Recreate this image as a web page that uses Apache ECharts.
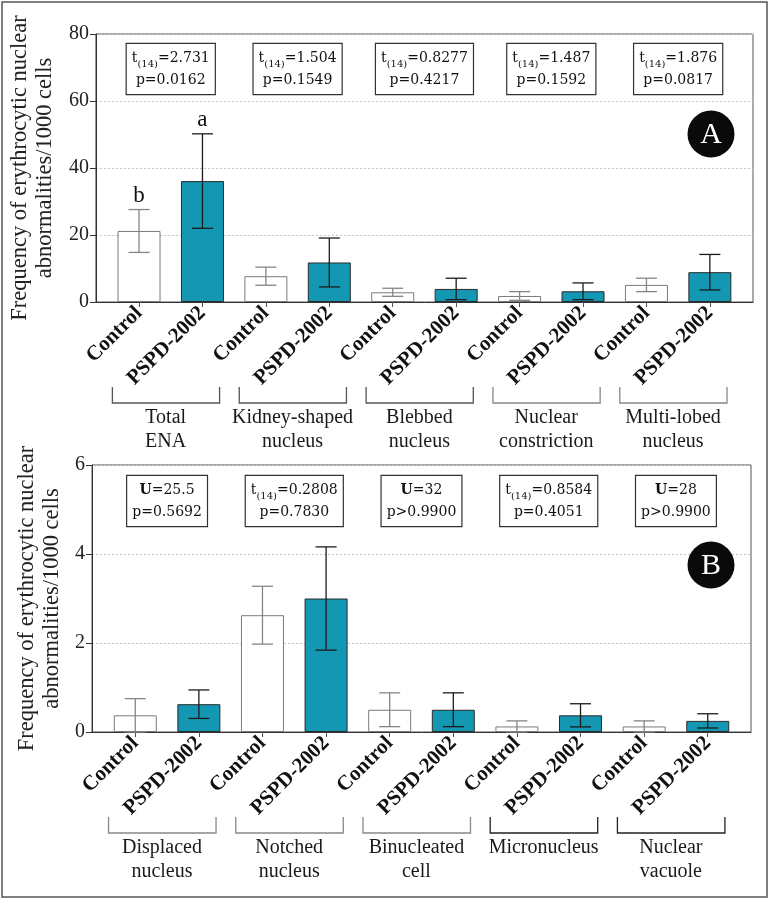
<!DOCTYPE html>
<html><head><meta charset="utf-8">
<script src="https://cdn.jsdelivr.net/npm/echarts@6/dist/echarts.min.js"></script>
<style>html,body{margin:0;padding:0;background:#fff}#c{width:770px;height:900px}</style>
</head><body><div id="c"></div>
<script>
// ---------- data ----------
const barLabels = ['Control','PSPD-2002','Control','PSPD-2002','Control','PSPD-2002','Control','PSPD-2002','Control','PSPD-2002'];
const groupsA = ['Total\nENA','Kidney-shaped\nnucleus','Blebbed\nnucleus','Nuclear\nconstriction','Multi-lobed\nnucleus'];
const groupsB = ['Displaced\nnucleus','Notched\nnucleus','Binucleated\ncell','Micronucleus','Nuclear\nvacuole'];
const meanA = [21.2, 36.1, 7.7, 11.8, 2.9, 3.9, 1.8, 3.2, 5.1, 8.9];
const sdA   = [6.4, 14.1, 2.7, 7.3, 1.2, 3.2, 1.3, 2.5, 2.0, 5.3];
const meanB = [0.375, 0.625, 2.625, 3.0, 0.5, 0.5, 0.125, 0.375, 0.125, 0.25];
const sdB   = [0.375, 0.32, 0.65, 1.16, 0.38, 0.38, 0.125, 0.26, 0.125, 0.16];
const lettersA = ['b','a','','','','','','','',''];
const lettersB = ['','','','','','','','','',''];
const statTopA = ['t(14)=2.731','t(14)=1.504','t(14)=0.8277','t(14)=1.487','t(14)=1.876'];
const statBotA = ['p=0.0162','p=0.1549','p=0.4217','p=0.1592','p=0.0817'];
const statTopB = ['U=25.5','t(14)=0.2808','U=32','t(14)=0.8584','U=28'];
const statBotB = ['p=0.5692','p=0.7830','p>0.9900','p=0.4051','p>0.9900'];
const yTicksA = {min:0, max:80, interval:20};
const yTicksB = {min:0, max:6, interval:2};
const yTitle = 'Frequency of erythrocytic nuclear\nabnormalities/1000 cells';

// ---------- styling ----------
const SERIF = '"Liberation Serif","Times New Roman",serif';
const STATFONT = '"DejaVu Serif",serif';
const TEAL = '#1497b3';
const idx = barLabels.map((_, i) => i);

const chart = echarts.init(document.getElementById('c'));

function xAxisCfg(gi) {
  return {
    type: 'value', gridIndex: gi, min: -0.68, max: 9.68,
    axisLine: {show: true, onZero: false, lineStyle: {color: '#333', width: 1}},
    axisTick: {show: true, customValues: idx, length: 5, lineStyle: {color: '#555'}},
    axisLabel: {customValues: idx, rotate: 45, margin: 8,
      formatter: v => barLabels[Math.round(v)],
      fontFamily: SERIF, fontWeight: 'bold', fontSize: 21, color: '#111'},
    splitLine: {show: false}
  };
}
function yAxisCfg(gi, t) {
  return {
    type: 'value', gridIndex: gi, min: t.min, max: t.max, interval: t.interval,
    axisLine: {show: true, onZero: false, lineStyle: {color: '#333'}},
    axisTick: {show: true, length: 6, lineStyle: {color: '#333'}},
    axisLabel: {fontFamily: SERIF, fontSize: 20, color: '#222', margin: 7},
    splitLine: {show: true, lineStyle: {color: '#c4c4c4', type: [2, 2]}},
    name: yTitle, nameLocation: 'middle', nameGap: 27,
    nameTextStyle: {fontFamily: SERIF, fontSize: 22.5, lineHeight: 25, color: '#222'}
  };
}
function barSeries(gi, means) {
  return {
    type: 'bar', xAxisIndex: gi, yAxisIndex: gi, barWidth: 43, z: 2,
    data: means.map((v, i) => ({
      value: [i, v],
      itemStyle: i % 2 ? {color: TEAL, borderColor: '#2a2a2a', borderWidth: 1}
                       : {color: '#fff', borderColor: '#7a7a7a', borderWidth: 1}
    }))
  };
}
function errSeries(gi, means, sds, letters) {
  return {
    type: 'custom', xAxisIndex: gi, yAxisIndex: gi, z: 3, clip: false,
    data: means.map((v, i) => [i, v, sds[i]]),
    renderItem: function (params, api) {
      const i = api.value(0), m = api.value(1), s = api.value(2);
      const pt = api.coord([i, m + s]), pb = api.coord([i, Math.max(0, m - s)]);
      const col = i % 2 ? '#1b1b1b' : '#858585';
      const hw = 10.5, lw = 1.3;
      const ch = [
        {type: 'line', shape: {x1: pt[0], y1: pt[1], x2: pb[0], y2: pb[1]}, style: {stroke: col, lineWidth: lw}},
        {type: 'line', shape: {x1: pt[0] - hw, y1: pt[1], x2: pt[0] + hw, y2: pt[1]}, style: {stroke: col, lineWidth: lw}},
        {type: 'line', shape: {x1: pb[0] - hw, y1: pb[1], x2: pb[0] + hw, y2: pb[1]}, style: {stroke: col, lineWidth: lw}}
      ];
      const L = letters[params.dataIndex];
      if (L) ch.push({type: 'text', x: pt[0], y: pt[1] - 2,
        style: {text: L, fontFamily: SERIF, fontSize: 23, fill: '#111', align: 'center', verticalAlign: 'bottom'}});
      return {type: 'group', children: ch};
    }
  };
}
function bracketSeries(gi, groups, colors) {
  return {
    type: 'custom', xAxisIndex: gi, yAxisIndex: gi, z: 3, clip: false, silent: true,
    data: groups.map((g, k) => [k * 2, 0]),
    renderItem: function (params, api) {
      const k = params.dataIndex;
      const b = api.coord([k * 2, 0]);
      const xl = api.coord([k * 2 - 0.42, 0])[0], xr = api.coord([k * 2 + 1.27, 0])[0];
      const xc = api.coord([k * 2 + 0.42, 0])[0];
      const y1 = b[1] + 85, y2 = b[1] + 101;
      const st = {stroke: colors[k], lineWidth: 1.3, fill: null};
      return {type: 'group', children: [
        {type: 'polyline', shape: {points: [[xl, y1], [xl, y2], [xr, y2], [xr, y1]]}, style: st},
        {type: 'text', x: xc, y: b[1] + 104, style: {text: groups[k], fontFamily: SERIF, fontSize: 20,
          lineHeight: 24, fill: '#1a1a1a', align: 'center', verticalAlign: 'top'}}
      ]};
    }
  };
}
function statRich(top, bot) {
  let a;
  if (top.indexOf('t(14)') === 0) a = '{n|t}{s|(14)}{n|' + top.slice(5) + '}';
  else a = '{b|U}{n|' + top.slice(1) + '}';
  return a + '\n{n|' + bot + '}';
}
function statSeries(gi, tops, bots, yOff) {
  return {
    type: 'custom', xAxisIndex: gi, yAxisIndex: gi, z: 4, clip: false, silent: true,
    data: tops.map((t, k) => [k * 2 + 0.5, 0]),
    renderItem: function (params, api) {
      const k = params.dataIndex;
      const x = api.coord([k * 2 + 0.5, 0])[0];
      return {type: 'text', x: x, y: params.coordSys.y + yOff, style: {
        text: statRich(tops[k], bots[k]), align: 'center', verticalAlign: 'top',
        fill: '#111', fontFamily: STATFONT, fontSize: 14,
        backgroundColor: '#fff', borderColor: '#333', borderWidth: 1.2, padding: [3, 5, 3, 5],
        rich: {
          n: {fontFamily: STATFONT, fontSize: 14, lineHeight: 22, fill: '#111'},
          b: {fontFamily: STATFONT, fontSize: 14, lineHeight: 22, fill: '#111', fontWeight: 'bold'},
          s: {fontFamily: STATFONT, fontSize: 10, fill: '#111', verticalAlign: 'bottom'}
        }
      }};
    }
  };
}
function badge(cx, cy, letter) {
  return {type: 'group', x: cx, y: cy, z: 100, children: [
    {type: 'circle', z: 100, shape: {cx: 0, cy: 0, r: 23.5}, style: {fill: '#0a0a0a'}},
    {type: 'text', z: 101, x: 0, y: 1, style: {text: letter, fontFamily: SERIF, fontSize: 30, fill: '#fff', align: 'center', verticalAlign: 'middle'}}
  ]};
}

chart.setOption({
  animation: false,
  backgroundColor: '#fff',
  grid: [
    {left: 92, top: 34, width: 661, height: 268, show: true, borderColor: '#555', borderWidth: 1, backgroundColor: 'transparent'},
    {left: 92, top: 465, width: 659, height: 267, show: true, borderColor: '#555', borderWidth: 1, backgroundColor: 'transparent'}
  ],
  xAxis: [xAxisCfg(0), xAxisCfg(1)],
  yAxis: [yAxisCfg(0, yTicksA), yAxisCfg(1, yTicksB)],
  series: [
    barSeries(0, meanA), errSeries(0, meanA, sdA, lettersA),
    bracketSeries(0, groupsA, ['#555', '#555', '#555', '#888', '#888']),
    statSeries(0, statTopA, statBotA, 10),
    barSeries(1, meanB), errSeries(1, meanB, sdB, lettersB),
    bracketSeries(1, groupsB, ['#888', '#888', '#888', '#222', '#222']),
    statSeries(1, statTopB, statBotB, 11)
  ],
  graphic: [
    {type: 'rect', shape: {x: 2, y: 2, width: 765, height: 895}, style: {fill: null, stroke: '#555', lineWidth: 1.5}, z: 0},
    badge(711, 134, 'A'),
    badge(711, 565, 'B')
  ]
});
</script></body></html>
